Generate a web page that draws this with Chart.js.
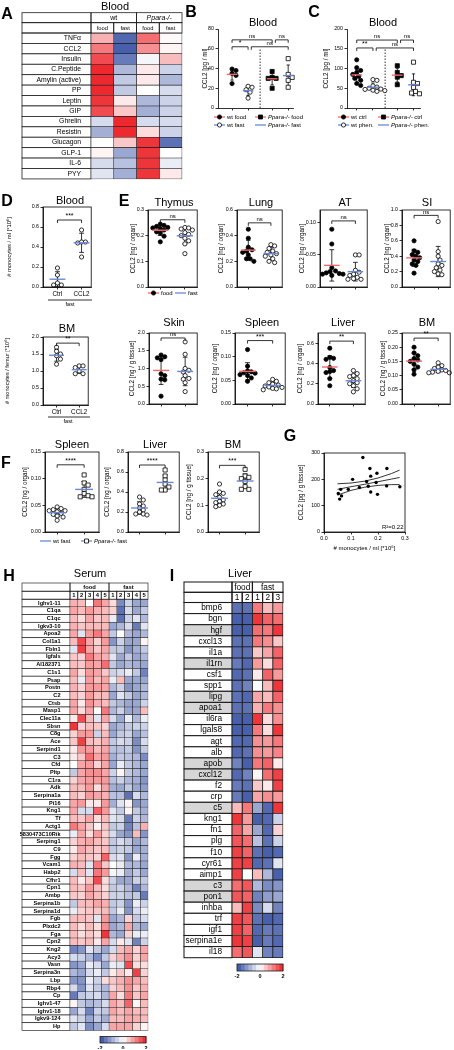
<!DOCTYPE html>
<html lang="en">
<head>
<meta charset="UTF-8" />
<title>CCL2 and fasting</title>
<script src="https://cdn.jsdelivr.net/npm/chart.js"></script>
<style>
  html, body { margin: 0; padding: 0; background: #fff; }
  #fig { position: relative; width: 454px; height: 1050px; overflow: hidden; font-family: "Liberation Sans", Arial, sans-serif; color: #000; }
  #fig canvas { position: absolute; }
  .lt, .tt { position: absolute; transform: translate(-50%, -50%); white-space: nowrap; line-height: 1; }
  .lt { font-weight: bold; font-size: 16px; }
  .tt { font-size: 11px; }
</style>
</head>
<body>
<div id="fig"></div>
<script>
// ---------- data ----------
// A: blood hormones (z-score)
const aRows = ['TNFα', 'CCL2', 'Insulin', 'C.Peptide', 'Amylin (active)', 'PP', 'Leptin', 'GIP', 'Ghrelin', 'Resistin', 'Glucagon', 'GLP-1', 'IL-6', 'PYY'];
const aWtFood = [0.7, 1.2, 1.6, 1.9, 1.9, 1.9, 1.8, 1.6, -0.4, -0.9, 0, 0.1, -0.4, -0.3];
const aWtFast = [-1.7, -1.8, -1.5, -0.8, -0.6, -0.6, 0.2, 0.5, 1.9, 1.9, 0.5, -1.0, -0.7, -0.9];
const aKoFood = [1.3, 1.0, -0.1, 0.2, 0.2, 0, -0.8, -0.9, -0.4, 0.3, 1.8, 1.8, 1.8, 1.8];
const aKoFast = [0.05, 0.1, 0.6, -0.5, -0.8, -0.4, -0.5, -0.5, -0.4, -0.5, -1.6, 0, -0.2, 0.2];

// B: blood CCL2 pg/ml
const bTicks = [0, 20, 40, 60, 80];
const bWtFood = [39.5, 38, 35, 33, 24.7];
const bWtFast = [22, 21, 18.5, 16, 10];
const bKoFood = [37, 31, 30, 30, 20];
const bKoFast = [50, 34, 31, 28, 21];

// C: blood CCL2 pg/ml, phenofibrate
const cTicks = [0, 50, 100, 150, 200];
const cWtCtrl = [122, 102, 95, 90, 85, 80, 75, 70, 62, 57];
const cWtPhen = [72, 70, 56, 53, 50, 48, 47, 45, 44, 42];
const cKoCtrl = [107, 90, 82, 78, 59];
const cKoPhen = [116, 65, 62, 52, 42, 38, 36];

// D: monocytes
const dBloodTicks = [0, 0.2, 0.4, 0.6, 0.8];
const dBloodCtrl = [0.19, 0.12, 0.04, 0.02, 0.02];
const dBloodCcl2 = [0.57, 0.45, 0.44, 0.45, 0.3];
const dBmTicks = [0, 0.5, 1.0, 1.5, 2.0];
const dBmCtrl = [1.7, 1.58, 1.5, 1.45, 1.35, 1.2];
const dBmCcl2 = [1.15, 1.15, 1.1, 1.0, 0.92, 0.92];
const dGroups = ['Ctrl', 'CCL2'];

// E: tissue CCL2, food vs fast
const eThymusFood = [0.245, 0.24, 0.236, 0.232, 0.23, 0.228, 0.222, 0.215, 0.21, 0.198, 0.176];
const eThymusFast = [0.232, 0.23, 0.226, 0.222, 0.212, 0.205, 0.2, 0.19, 0.18, 0.168, 0.13];
const eLungFood = [0.45, 0.38, 0.31, 0.29, 0.28, 0.27, 0.25, 0.22, 0.22, 0.2];
const eLungFast = [0.33, 0.32, 0.3, 0.28, 0.27, 0.26, 0.25, 0.24, 0.22, 0.2, 0.19];
const eAtFood = [0.09, 0.067, 0.03, 0.025, 0.024, 0.022, 0.021, 0.02, 0.02, 0.018];
const eAtFast = [0.05, 0.05, 0.026, 0.023, 0.02, 0.018, 0.015, 0.013, 0.012, 0.012];
const eSiFood = [0.6, 0.47, 0.45, 0.42, 0.4, 0.38, 0.35, 0.33, 0.3, 0.28, 0.18];
const eSiFast = [0.85, 0.46, 0.4, 0.35, 0.3, 0.28, 0.25, 0.22, 0.2, 0.17, 0.16];
const eSkinFood = [1.38, 1.33, 1.3, 1.25, 0.85, 0.8, 0.7, 0.68, 0.22];
const eSkinFast = [1.75, 1.4, 1.0, 0.95, 0.9, 0.8, 0.72, 0.7, 0.6, 0.35];
const eSpleenFood = [0.115, 0.08, 0.07, 0.068, 0.066, 0.065, 0.062, 0.06, 0.055, 0.048];
const eSpleenFast = [0.052, 0.048, 0.045, 0.042, 0.04, 0.038, 0.036, 0.035, 0.033, 0.032, 0.03];
const eLiverFood = [0.55, 0.46, 0.45, 0.44, 0.36, 0.33, 0.32, 0.31, 0.25, 0.18];
const eLiverFast = [0.33, 0.3, 0.28, 0.27, 0.25, 0.23, 0.21, 0.2, 0.18, 0.15, 0.12];
const eBmFood = [0.2, 0.18, 0.17, 0.16, 0.155, 0.15, 0.14, 0.13, 0.12, 0.105];
const eBmFast = [0.145, 0.135, 0.13, 0.125, 0.12, 0.118, 0.115, 0.112, 0.11, 0.11];

// F: wt fast vs Ppara-/- fast
const fSpleenWt = [0.047, 0.044, 0.042, 0.04, 0.04, 0.038, 0.035, 0.033, 0.03, 0.028, 0.022];
const fSpleenKo = [0.107, 0.092, 0.088, 0.08, 0.072, 0.068, 0.066, 0.066];
const fLiverWt = [0.35, 0.32, 0.28, 0.26, 0.24, 0.22, 0.2, 0.18, 0.18, 0.17];
const fLiverKo = [0.62, 0.56, 0.52, 0.48, 0.45, 0.42, 0.42];
const fBmWt = [0.18, 0.15, 0.145, 0.14, 0.13, 0.12, 0.115, 0.11, 0.105, 0.1, 0.095];
const fBmKo = [0.235, 0.21, 0.205, 0.2, 0.19, 0.17, 0.16, 0.16];

// G: correlation
const gX = [0.053, 0.058, 0.062, 0.065, 0.09, 0.106, 0.131, 0.144, 0.158, 0.164, 0.17, 0.173, 0.173, 0.193, 0.196, 0.198, 0.232, 0.233, 0.281];
const gY = [146, 125, 162, 137, 162, 200, 169, 283, 192, 174, 241, 212, 152, 188, 223, 143, 175, 241, 172];
const gLineX = [0.05, 0.1, 0.15, 0.2, 0.25, 0.28];
const gFit = [162, 172, 181, 191, 201, 207];
const gHi = [183, 186, 193, 205, 222, 235];
const gLo = [140, 158, 170, 177, 180, 180];
const gXTicks = [0, 0.1, 0.2, 0.3];
const gXLabels = ['0.0', '0.1', '0.2', '0.3'];
const gYTicks = [0, 100, 200, 300];

// H: serum proteome (z-score), columns food 1-5, fast 1-5
const hGenes = ['Ighv1-11', 'C1qa', 'C1qc', 'Igkv3-10', 'Apoa2', 'Col1a1', 'Fbln1', 'Igfals', 'AI182371', 'C1s1', 'Psap', 'Postn', 'C2', 'Ctsb', 'Masp1', 'Clec11a', 'Sbsn', 'C8g', 'Ace', 'Serpind1', 'C3', 'Cfd', 'Pltp', 'C1ra', 'Adk', 'Serpina1a', 'Pi16', 'Kng1', 'Tf', 'Actg1', '5830473C10Rik', 'Serping1', 'C9', 'Fgg', 'Vcam1', 'Habp2', 'Cfhr1', 'Cpn1', 'Ambp', 'Serpina1b', 'Serpina1d', 'Fgb', 'Plxdc2', 'Fga', 'Cpn2', 'Kng2', 'Acy3', 'Vasn', 'Serpina3n', 'Lbp', 'Rbp4', 'Cp', 'Ighv1-47', 'Ighv1-18', 'Igkv9-124', 'Hp'];
const hVals = [
  [.7, .6, 0, 1.2, .8, .3, -1.3, -.5, -1, -1],
  [.8, .6, .9, .7, .6, .4, -1.6, -.4, -1, -.6],
  [.6, .3, .8, .5, .6, -.2, -1.6, -.5, -.3, -.8],
  [.7, .5, .6, .6, .6, -1, -.8, -.4, -1.5, -.3],
  [.8, -.3, .9, 1.2, .8, -.6, 0, -.8, -1, -.8],
  [.6, 1.6, .8, .4, .9, -1.2, -.5, -1, -1, .1],
  [-.3, 1.7, .8, .5, .8, -.6, -.6, -1.2, -.9, -.6],
  [.5, .4, 1.2, .8, .7, -.3, -1, -.6, -1, -.8],
  [.6, .5, .9, .8, 1.3, -.6, -1, -.8, -.9, -1],
  [.8, .3, .9, .8, .5, -.5, -.4, -.2, -.6, -1.4],
  [.6, -.2, .9, .6, .8, -.2, .6, -1, -1, -1],
  [.7, .4, .9, .9, .8, -.8, -.5, -1.2, -1, -.8],
  [.6, .4, .9, .6, .6, -1, -.3, -.6, -1, -.8],
  [.8, .2, 1, .7, .6, -.6, -.8, -1, -1, -.5],
  [.8, .3, .8, 0, 1.2, -.8, -.5, -1, -1, .6],
  [.2, 1.6, .6, -.3, .8, -.4, -1, -.2, -.8, -.2],
  [1.8, .4, .6, .5, .4, -1, -.8, -.6, -.5, -.5],
  [.4, .9, .9, -.5, .6, -1, -.6, -.5, -1, -.7],
  [.5, 1.7, .6, .5, .7, -.6, -.4, -.5, -1.3, -.4],
  [.2, .9, .9, .6, .8, -.7, -.7, -.6, -1.2, -.6],
  [.2, .5, 1.3, .8, .9, -.9, -.6, -.7, -.8, -1.3],
  [0, .8, .9, .4, .8, -1, -.2, -.6, -.8, -1],
  [-.6, .8, 1, 1, .8, -.5, .1, -.6, -.8, -1],
  [.4, .8, .9, .9, .9, -.7, -.5, -.8, -.9, -1.2],
  [.6, .6, .9, .3, .8, -.9, -1, -.6, -1, -1.1],
  [.6, .4, .9, .8, .7, -.7, -.7, -1.6, -.4, -.8],
  [.8, .9, .2, .2, .9, -.9, -.3, .1, -1.2, -1],
  [.8, -.4, -.4, 1.4, .9, -.3, -.6, .1, -.6, -.9],
  [.6, .5, .8, .3, .6, -.3, -.4, -1.5, -.5, -.8],
  [1.2, .8, .5, .1, .5, -.6, -.5, -1.4, -.7, .7],
  [-.2, .8, .3, .9, .4, -.4, -1, -1.2, .6, -1.2],
  [.4, .7, .8, .6, .5, -.6, -.4, -.6, -1, -.8],
  [.2, .8, .6, .5, .6, -.6, -.5, -.6, -1, -.9],
  [.4, .6, .5, .4, 1.4, -.4, -.3, -1.2, -.2, -.9],
  [.7, .6, -.3, 1.2, .5, 0, -.2, -.8, -.8, -1],
  [-.4, .6, -.3, 1.2, .9, -.1, -.2, -.9, -.6, -1],
  [.6, .2, .5, 1.6, .3, -.5, -1, -1, -.5, -.6],
  [.6, .5, .9, .6, .3, -.6, -.5, -.8, -1.4, -.8],
  [.5, .4, .8, .6, .4, -.5, -.5, -.7, -.6, -1.5],
  [-.6, .6, .6, .8, .7, -.6, -.5, -1.2, -.2, -.5],
  [-.2, .4, .5, .5, .6, -.6, -.2, -1.2, -.4, -.2],
  [.6, .6, .5, -.3, .9, -1, -.8, .4, -.6, -.4],
  [.6, .3, .6, .3, 1, -1, -.8, .8, -.8, -1],
  [.6, .3, .5, .3, 1.8, -.8, -1, .4, -.2, -.2],
  [.6, .5, .6, .2, .8, -.4, .2, -.3, -1.4, -.5],
  [-1.4, -1.2, -.3, -.6, -1, -.4, .6, .8, .4, .8],
  [-.4, -.5, -.8, -1.3, -.6, .4, .7, 1, .4, .8],
  [-1.2, -1, -.2, -.4, -1, -.2, -.3, 1.6, .3, .3],
  [-.8, -1, -.4, -.2, -.6, .2, .5, .2, 1.7, .4],
  [-1.2, -1.2, -.2, -.5, .3, .5, .7, 1, .8, .6],
  [-.4, -1.2, -.3, -.6, -.8, .4, .6, 1, .5, .7],
  [-1.5, -.6, -.5, -.4, -.8, .8, .3, 1.2, .5, .8],
  [.1, -.6, -.8, -.7, -.4, .8, .6, 1.4, .1, .6],
  [-1, -.4, -1.4, -.5, -.6, .8, .6, .8, .6, .6],
  [-.3, -.5, -1, -.6, -.9, .6, .6, .8, .7, .6],
  [-.6, -.3, -1.3, -1, -.4, .8, .8, .8, .4, .1]
];

// I: liver transcripts (z-score), columns food 1-2, fast 1-3
const iGenes = ['bmp6', 'bgn', 'hgf', 'cxcl13', 'il1a', 'il1rn', 'csf1', 'spp1', 'lipg', 'apoa1', 'il6ra', 'lgals8', 'agt', 'alb', 'apob', 'cxcl12', 'f2', 'crp', 'c5', 'kng1', 'fn1', 'plg', 'f10', 'cyr61', 'aimp1', 'c3', 'pon1', 'inhba', 'trf', 'igf1', 'serpina1e', 'il18'];
const iGray = ['hgf', 'il1rn', 'lipg', 'apoa1', 'apob', 'cxcl12', 'c5', 'c3', 'pon1'];
const iVals = [
  [-1.6, -1.6, 1.2, .6, .9], [-1.8, -1.8, 1.8, 1.4, 1.3], [-1.8, -1.8, 1.3, 1.2, 1.8], [-1.6, -1.6, 1.2, 1.0, .5],
  [-1.6, -1.6, .5, .8, 1.4], [-1.5, -1.7, .9, .3, 1.4], [-1.7, -1.6, .2, 1.4, .9], [-1.6, -1.4, 0, .6, 1.8],
  [-1.6, -1.7, .8, .6, 1.4], [-1.6, -1.6, .7, 1.2, 1.0], [-1.8, -1.8, 1.8, .3, 1.0], [-1.8, -1.8, 1.2, .3, 1.8],
  [-1.7, -1.7, 1.0, .9, 1.2], [-1.7, -1.6, 1.0, .9, 1.1], [-1.4, -1.8, 1.2, 1.4, .2], [-1.7, -1.4, .1, 1.3, 1.7],
  [-1.5, -1.6, .5, .2, 1.7], [-1.5, -1.8, .8, 1.0, .9], [.6, 1.2, -1.0, -1.7, 1.8], [1.8, .9, -1.8, -1.7, -.5],
  [1.4, .8, -1.0, -1.7, .4], [1.5, 1.3, -.7, -1.6, -.5], [1.7, 1.4, -1.6, -1.8, -1.7], [1.7, 1.7, -1.7, -1.6, -.3],
  [1.7, 0, .6, -.8, -1.8], [1.3, 1.5, -.8, -1.3, -1.2], [1.5, 1.4, -1.4, -1.1, -1.0], [.6, 1.7, -1.3, -.4, -1.4],
  [1.7, 1.5, -1.6, -1.8, -1.7], [1.7, 1.4, -1.7, -1.5, -1.6], [1.8, 1.7, -1.8, -1.5, -1.7], [1.3, 1.5, -.3, -1.4, -1.5]
];
const cbTicks = ['-2', '0', '2'];

// ---------- helpers ----------
const FONT = '"Liberation Sans", Arial, sans-serif';
const RED = '#f0676a';
const BLUE = '#6a88d6';
Chart.defaults.font.family = FONT;
Chart.defaults.color = '#000';
Chart.defaults.animation = false;
Chart.defaults.responsive = false;
Chart.defaults.events = [];
Chart.defaults.plugins.legend.display = false;
Chart.defaults.plugins.tooltip.enabled = false;

const fig = document.getElementById('fig');
function mkCanvas(x, y, w, h) {
  const c = document.createElement('canvas');
  c.width = w; c.height = h;
  c.style.left = x + 'px'; c.style.top = y + 'px';
  fig.appendChild(c);
  return c;
}
function addText(cls, txt, x, y, size) {
  const d = document.createElement('div');
  d.className = cls; d.textContent = txt;
  d.style.left = x + 'px'; d.style.top = y + 'px';
  if (size) d.style.fontSize = size + 'px';
  fig.appendChild(d);
}
function heat(v) {
  const t = Math.max(-1, Math.min(1, v / 2));
  const e = t < 0 ? [52, 78, 163] : [236, 30, 36];
  const s = Math.abs(t);
  return 'rgb(' + e.map(k => Math.round(255 + (k - 255) * s)).join(',') + ')';
}
const mean = a => a.reduce((s, v) => s + v, 0) / a.length;
const sd = a => { const m = mean(a); return Math.sqrt(a.reduce((s, v) => s + (v - m) * (v - m), 0) / (a.length - 1)); };

// simple beeswarm so points with close values sit side by side
function swarm(vals, x0, ymax, hPx, pxPerX, r) {
  const pyv = hPx / ymax, placed = [], out = [];
  vals.map((v, i) => i).sort((a, b) => vals[b] - vals[a]).forEach(i => {
    const yp = vals[i] * pyv;
    let off = 0;
    for (let k = 0; k < 40; k++) {
      const o = k === 0 ? 0 : (k % 2 ? 1 : -1) * Math.ceil(k / 2) * r * 0.9;
      if (placed.every(p => Math.hypot(p.x - o, p.y - yp) >= r * 1.8)) { off = o; break; }
    }
    placed.push({ x: off, y: yp });
    out[i] = { x: x0 + off / pxPerX, y: vals[i] };
  });
  return out;
}

function txt(c, s, x, y, size, opt) {
  opt = opt || {};
  c.font = (opt.it ? 'italic ' : '') + (opt.b ? 'bold ' : '') + size + 'px ' + FONT;
  c.fillStyle = '#000';
  c.textAlign = opt.align || 'center';
  c.textBaseline = opt.base || 'middle';
  c.fillText(s, x, y);
}
function bracket(c, X, Y, x1, x2, y, s) {
  const a = X.getPixelForValue(x1), b = X.getPixelForValue(x2), p = Y.getPixelForValue(y);
  c.strokeStyle = '#000'; c.lineWidth = 0.8;
  c.beginPath(); c.moveTo(a, p + 3); c.lineTo(a, p); c.lineTo(b, p); c.lineTo(b, p + 3); c.stroke();
  txt(c, s, (a + b) / 2, p - 0.5, s === 'ns' ? 6 : 7, { base: 'bottom' });
}
function legMark(c, x, y, col, shape, fill) {
  c.strokeStyle = col; c.lineWidth = 1.3;
  c.beginPath(); c.moveTo(x, y); c.lineTo(x + 11, y); c.stroke();
  if (!shape) return;
  c.fillStyle = fill ? '#000' : '#fff'; c.strokeStyle = '#000'; c.lineWidth = 0.8;
  c.beginPath();
  if (shape === 'circle') c.arc(x + 5.5, y, 2.1, 0, 2 * Math.PI); else c.rect(x + 3.5, y - 2, 4, 4);
  c.fill(); c.stroke();
}
function legText(c, x, y, parts) {
  let cx = x;
  parts.forEach(([s, it]) => {
    txt(c, s, cx, y, 6, { it: it, align: 'left' });
    cx += c.measureText(s).width;
  });
}

function yAxis(o, padL) {
  const tf = o.tf || 6.3;
  return {
    type: 'linear', min: 0, max: o.ymax,
    afterBuildTicks: s => { s.ticks = o.yticks.map(v => ({ value: v })); },
    ticks: { font: { size: 5.3 }, padding: 1.5, autoSkip: false, callback: v => v.toFixed(o.dec) },
    grid: { drawOnChartArea: false, tickLength: 2.5, color: '#000', lineWidth: 0.8 },
    border: { color: '#000', width: 0.8 },
    title: { display: true, text: o.ytitle, font: { size: tf }, padding: { top: padL - o.yd - tf * 0.6, bottom: 0 } },
    afterFit: s => { s.width = padL; }
  };
}
function xAxis(o, padB) {
  return {
    type: 'linear', min: o.xmin, max: o.xmax,
    afterBuildTicks: s => { s.ticks = o.xticks.map(v => ({ value: v })); },
    ticks: { font: { size: o.xlf || 5.3 }, padding: 1, autoSkip: false, maxRotation: 0, callback: (v, i) => o.xlabels ? o.xlabels[i] : '' },
    grid: { drawOnChartArea: false, tickLength: 2.5, color: '#000', lineWidth: 0.8 },
    border: { color: '#000', width: 0.8 },
    title: o.xtitle ? { display: true, text: o.xtitle, font: { size: 6 }, padding: { top: 0, bottom: o.xtpb || 0 } } : { display: false },
    afterFit: s => { s.height = padB; }
  };
}

// dot plot with mean line and SD bars
function dotPlot(o) {
  const A = o.area, P = o.pad;
  const ox = A.x - P.l, oy = A.y - P.t;
  const cv = mkCanvas(ox, oy, A.w + P.l + P.r, A.h + P.t + P.b);
  const line = (pts, col, w, ord, dash) => ({ type: 'scatter', data: pts, showLine: true, borderColor: col, borderWidth: w, pointRadius: 0, borderDash: dash || [], order: ord, clip: false });
  const ds = [];
  o.xticks = o.groups.map(g => g.x);
  o.groups.forEach(g => {
    const r = g.style === 'rect' ? 2.9 : 2.1;
    ds.push({ type: 'scatter', data: swarm(g.vals, g.x, o.ymax, A.h, A.w / (o.xmax - o.xmin), 2.2), pointStyle: g.style || 'circle', pointRadius: r, backgroundColor: g.fill ? '#000' : '#fff', borderColor: '#000', borderWidth: 0.8, order: 1, clip: false });
    const m = mean(g.vals), s = sd(g.vals);
    ds.push(line([{ x: g.x, y: m - s }, { x: g.x, y: m + s }], '#000', 0.8, 2));
    ds.push(line([{ x: g.x - 0.1, y: m + s }, { x: g.x + 0.1, y: m + s }], '#000', 0.8, 2));
    ds.push(line([{ x: g.x - 0.1, y: m - s }, { x: g.x + 0.1, y: m - s }], '#000', 0.8, 2));
    ds.push(line([{ x: g.x - 0.33, y: m }, { x: g.x + 0.33, y: m }], g.mc, 1.4, 0));
  });
  if (o.divider) ds.push(line([{ x: o.divider[0], y: 0 }, { x: o.divider[0], y: o.divider[1] }], '#000', 0.8, 3, [1.5, 1.5]));
  new Chart(cv, {
    type: 'scatter',
    data: { datasets: ds },
    options: {
      layout: { padding: { left: 0, top: P.t, right: P.r, bottom: 0 } },
      scales: { x: xAxis(o, P.b), y: yAxis(o, P.l) }
    },
    plugins: [{
      id: 'dp',
      afterDraw(ch) {
        const c = ch.ctx, a = ch.chartArea;
        c.save();
        if (o.box) { c.strokeStyle = '#000'; c.lineWidth = 0.8; c.strokeRect(a.left, a.top, a.right - a.left, a.bottom - a.top); }
        (o.brackets || []).forEach(b => bracket(c, ch.scales.x, ch.scales.y, b[0], b[1], b[2], b[3]));
        if (o.extra) { c.translate(-ox, -oy); o.extra(c); }
        c.restore();
      }
    }]
  });
}

// heatmap from floating bars, one dataset per column
function heatmap(o) {
  const A = o.area, P = o.pad;
  const ox = Math.round(A.x - P.l), oy = Math.round(A.y - P.t);
  const W = Math.round(A.x + A.w + P.r - ox), H = Math.round(A.y + A.h + P.b - oy);
  const padTop = A.y - oy, padBot = H - padTop - A.h, yW = A.x - ox, padR = W - yW - A.w;
  const cv = mkCanvas(ox, oy, W, H);
  const n = o.cols.length;
  new Chart(cv, {
    type: 'bar',
    data: {
      labels: o.rows,
      datasets: o.cols.map((col, i) => ({
        data: o.rows.map(() => [i, i + 1]),
        backgroundColor: col.map(heat), borderColor: '#1a1a1a', borderWidth: o.bw, borderSkipped: false,
        barPercentage: 1, categoryPercentage: 1, grouped: false, clip: false
      }))
    },
    options: {
      indexAxis: 'y',
      layout: { padding: { top: padTop, bottom: padBot, left: 0, right: padR } },
      scales: {
        x: { type: 'linear', min: 0, max: n, display: false },
        y: { type: 'category', offset: true, grid: { display: false }, border: { display: false },
             ticks: { autoSkip: false, padding: o.tp, font: o.font, color: '#000' },
             afterFit: s => { s.width = yW; } }
      }
    },
    plugins: [{
      id: 'hm',
      beforeDraw(ch) {
        const c = ch.ctx, Y = ch.scales.y, a = ch.chartArea;
        const pitch = Y.getPixelForValue(1) - Y.getPixelForValue(0);
        const x0 = o.labelX - ox;
        c.save(); c.strokeStyle = '#1a1a1a'; c.lineWidth = o.bw * 1.3;
        o.rows.forEach((r, i) => {
          const y0 = Y.getPixelForValue(i) - pitch / 2;
          c.fillStyle = (o.gray && o.gray.includes(r)) ? '#d6d6d6' : '#fff';
          c.fillRect(x0, y0, a.left - x0, pitch);
          c.strokeRect(x0, y0, a.left - x0, pitch);
        });
        c.restore();
      },
      afterDraw(ch) {
        const c = ch.ctx, X = ch.scales.x, a = ch.chartArea, h = o.header;
        const px = v => X.getPixelForValue(v);
        const x0 = o.labelX - ox, y1 = h.y1 - oy, y2 = h.y2 - oy, y3 = a.top;
        c.save(); c.strokeStyle = '#1a1a1a'; c.lineWidth = o.bw * 1.3;
        c.fillStyle = '#fff';
        c.strokeRect(x0, y1, px(0) - x0, y2 - y1);
        c.strokeRect(x0, y2, px(0) - x0, y3 - y2);
        h.groups.forEach(g => {
          c.strokeRect(px(g[0]), y1, px(g[1]) - px(g[0]), y2 - y1);
          txt(c, g[2], (px(g[0]) + px(g[1])) / 2, (y1 + y2) / 2 + 0.5, h.f1, { it: g[3], b: h.bold });
        });
        h.subs.forEach((s, i) => {
          c.strokeRect(px(i), y2, px(i + 1) - px(i), y3 - y2);
          txt(c, s, (px(i) + px(i + 1)) / 2, (y2 + y3) / 2 + 0.5, h.f2, { b: h.bold });
        });
        if (o.cbar) {
          const b = o.cbar, k = 12, bx = b.x - ox, by = b.y - oy;
          for (let j = 0; j < k; j++) {
            c.fillStyle = heat(-2 + 4 * (j + 0.5) / k);
            c.fillRect(bx + j * b.w / k, by, b.w / k + 0.4, b.h);
          }
          c.lineWidth = 0.8; c.strokeRect(bx, by, b.w, b.h);
          cbTicks.forEach((s, j) => txt(c, s, bx + j * b.w / 2, b.ly - oy, 5.5, { b: true }));
        }
        c.restore();
      }
    }]
  });
}

// ---------- panel A ----------
heatmap({
  area: { x: 91, y: 33, w: 91, h: 148.4 }, pad: { l: 91, t: 33, r: 4, b: 4 }, labelX: 22,
  rows: aRows, cols: [aWtFood, aWtFast, aKoFood, aKoFast], font: { size: 6.8 }, tp: 2, bw: 0.6,
  header: { y1: 12.7, y2: 22.7, groups: [[0, 2, 'wt', false], [2, 4, 'Ppara-/-', true]], subs: ['food', 'fast', 'food', 'fast'], f1: 7, f2: 5.8 }
});

// ---------- panel B ----------
dotPlot({
  area: { x: 218, y: 29, w: 75, h: 79 }, pad: { l: 30, t: 29, r: 12, b: 26 },
  xmin: -0.875, xmax: 3.8, ymax: 80, yticks: bTicks, dec: 0, ytitle: 'CCL2 [pg / ml]', yd: 13,
  groups: [
    { x: 0, vals: bWtFood, fill: true, mc: RED },
    { x: 1, vals: bWtFast, fill: false, mc: BLUE },
    { x: 2.5, vals: bKoFood, fill: true, style: 'rect', mc: RED },
    { x: 3.5, vals: bKoFast, fill: false, style: 'rect', mc: BLUE }
  ],
  brackets: [[0, 2.5, 69, 'ns'], [2.7, 3.5, 69, 'ns'], [0, 1, 62, '*'], [1.2, 3.5, 62, 'ns']],
  divider: [1.75, 60],
  extra: c => {
    legMark(c, 214, 117, RED, 'circle', true); legText(c, 227, 117, [['wt food']]);
    legMark(c, 255, 117, RED, 'rect', true); legText(c, 268, 117, [['Ppara-/-', true], [' food']]);
    legMark(c, 214, 125, BLUE, 'circle', false); legText(c, 227, 125, [['wt fast']]);
    legMark(c, 255, 125, BLUE); legText(c, 268, 125, [['Ppara-/-', true], [' fast']]);
  }
});

// ---------- panel C ----------
dotPlot({
  area: { x: 347, y: 29, w: 73, h: 79 }, pad: { l: 30, t: 29, r: 34, b: 26 },
  xmin: -0.6, xmax: 3.9, ymax: 200, yticks: cTicks, dec: 0, ytitle: 'CCL2 [pg / ml]', yd: 21,
  groups: [
    { x: 0, vals: cWtCtrl, fill: true, mc: RED },
    { x: 1, vals: cWtPhen, fill: false, mc: BLUE },
    { x: 2.5, vals: cKoCtrl, fill: true, style: 'rect', mc: RED },
    { x: 3.5, vals: cKoPhen, fill: false, style: 'rect', mc: BLUE }
  ],
  brackets: [[0, 2.5, 172, 'ns'], [2.7, 3.5, 172, 'ns'], [0, 1, 152, '**'], [1.2, 3.5, 152, 'ns']],
  divider: [1.75, 150],
  extra: c => {
    legMark(c, 338, 117, RED, 'circle', true); legText(c, 351, 117, [['wt ctrl']]);
    legMark(c, 378, 117, RED, 'rect', true); legText(c, 391, 117, [['Ppara-/-', true], [' ctrl']]);
    legMark(c, 338, 125, BLUE, 'circle', false); legText(c, 351, 125, [['wt phen.']]);
    legMark(c, 378, 125, BLUE); legText(c, 391, 125, [['Ppara-/-', true], [' phen.']]);
  }
});

// ---------- panel D ----------
dotPlot({
  area: { x: 43, y: 207, w: 49, h: 80 }, pad: { l: 40, t: 12, r: 4, b: 22 },
  xmin: -0.6, xmax: 1.4, ymax: 0.8, yticks: dBloodTicks, dec: 1, ytitle: '# monocytes / ml [*10⁶]', yd: 34, tf: 5.8,
  xlabels: dGroups, xlf: 6.3, box: true,
  groups: [{ x: 0, vals: dBloodCtrl, fill: false, mc: BLUE }, { x: 1, vals: dBloodCcl2, fill: false, mc: BLUE }],
  brackets: [[0, 1, 0.67, '***']],
  extra: c => {
    c.strokeStyle = '#000'; c.lineWidth = 0.8;
    c.beginPath(); c.moveTo(48, 300); c.lineTo(92, 300); c.stroke();
    txt(c, 'fast', 70, 304.5, 5.5);
  }
});
dotPlot({
  area: { x: 43, y: 337, w: 46, h: 68 }, pad: { l: 42, t: 10, r: 4, b: 22 },
  xmin: -0.6, xmax: 1.4, ymax: 2, yticks: dBmTicks, dec: 1, ytitle: '# monocytes / femur [*10⁶]', yd: 36, tf: 5.6,
  xlabels: dGroups, xlf: 6.3, box: true,
  groups: [{ x: 0, vals: dBmCtrl, fill: false, mc: BLUE }, { x: 1, vals: dBmCcl2, fill: false, mc: BLUE }],
  brackets: [[0, 1, 1.82, '**']],
  extra: c => {
    c.strokeStyle = '#000'; c.lineWidth = 0.8;
    c.beginPath(); c.moveTo(48, 417); c.lineTo(90, 417); c.stroke();
    txt(c, 'fast', 68, 421.5, 5.5);
  }
});

// ---------- panel E ----------
const ePanels = [
  { x: 148, y: 210, w: 52, h: 77, f: eThymusFood, s: eThymusFast, max: 0.3, t: [0, 0.1, 0.2, 0.3], dec: 1, yt: 'CCL2 [ng / organ]', d: 15, br: [0.262, 'ns'] },
  { x: 237, y: 210, w: 48, h: 77, f: eLungFood, s: eLungFast, max: 0.6, t: [0, 0.2, 0.4, 0.6], dec: 1, yt: 'CCL2 [ng / organ]', d: 16, br: [0.5, 'ns'] },
  { x: 320, y: 210, w: 50, h: 77, f: eAtFood, s: eAtFast, max: 0.12, t: [0, 0.05, 0.1], dec: 2, yt: 'CCL2 [ng / organ]', d: 18, br: [0.103, 'ns'] },
  { x: 402, y: 210, w: 51, h: 77, f: eSiFood, s: eSiFast, max: 1.0, t: [0, 0.2, 0.4, 0.6, 0.8, 1.0], dec: 1, yt: 'CCL2 [ng / organ]', d: 15, br: [0.93, 'ns'] },
  { x: 149, y: 333, w: 51, h: 71, f: eSkinFood, s: eSkinFast, max: 2, t: [0, 0.5, 1.0, 1.5, 2.0], dec: 1, yt: 'CCL2 [ng / g tissue]', d: 17, br: [1.86, 'ns'] },
  { x: 235, y: 333, w: 53, h: 71, f: eSpleenFood, s: eSpleenFast, max: 0.15, t: [0, 0.05, 0.1, 0.15], dec: 2, yt: 'CCL2 [ng / organ]', d: 20, br: [0.134, '***'] },
  { x: 318, y: 333, w: 50, h: 71, f: eLiverFood, s: eLiverFast, max: 0.7, t: [0, 0.2, 0.4, 0.6], dec: 1, yt: 'CCL2 [ng / organ]', d: 18, br: [0.62, '**'] },
  { x: 402, y: 333, w: 51, h: 71, f: eBmFood, s: eBmFast, max: 0.25, t: [0, 0.05, 0.1, 0.15, 0.2, 0.25], dec: 2, yt: 'CCL2 [ng / g tissue]', d: 19, br: [0.232, '**'] }
];
ePanels.forEach((p, i) => dotPlot({
  area: { x: p.x, y: p.y, w: p.w, h: p.h }, pad: { l: 30, t: 12, r: 2, b: 10 },
  xmin: -0.5, xmax: 1.5, ymax: p.max, yticks: p.t, dec: p.dec, ytitle: p.yt, yd: p.d, box: true,
  groups: [{ x: 0, vals: p.f, fill: true, mc: RED }, { x: 1, vals: p.s, fill: false, mc: BLUE }],
  brackets: [[0, 1, p.br[0], p.br[1]]],
  extra: i === 0 ? c => {
    legMark(c, 148, 293, RED, 'circle', true); legText(c, 161, 293, [['food']]);
    legMark(c, 175, 293, BLUE); legText(c, 188, 293, [['fast']]);
  } : null
}));

// ---------- panel F ----------
const fPanels = [
  { x: 45, f: fSpleenWt, s: fSpleenKo, max: 0.15, t: [0, 0.05, 0.1, 0.15], dec: 2, yt: 'CCL2 [ng / organ]', d: 20, br: [0.126, '****'], r: 40 },
  { x: 128, f: fLiverWt, s: fLiverKo, max: 0.8, t: [0, 0.2, 0.4, 0.6, 0.8], dec: 1, yt: 'CCL2 [ng / organ]', d: 21, br: [0.67, '****'], r: 2 },
  { x: 208, f: fBmWt, s: fBmKo, max: 0.3, t: [0, 0.1, 0.2, 0.3], dec: 1, yt: 'CCL2 [ng / g tissue]', d: 19, br: [0.25, '***'], r: 2 }
];
fPanels.forEach((p, i) => dotPlot({
  area: { x: p.x, y: 452, w: 54, h: 80 }, pad: { l: 32, t: 12, r: p.r, b: 14 },
  xmin: -0.45, xmax: 1.55, ymax: p.max, yticks: p.t, dec: p.dec, ytitle: p.yt, yd: p.d, box: true,
  groups: [{ x: 0, vals: p.f, fill: false, mc: BLUE }, { x: 1, vals: p.s, fill: false, style: 'rect', mc: BLUE }],
  brackets: [[0, 1, p.br[0], p.br[1]]],
  extra: i === 0 ? c => {
    legMark(c, 40, 541, BLUE); legText(c, 53, 541, [['wt fast']]);
    legMark(c, 81, 541, BLUE, 'rect', false); legText(c, 94, 541, [['Ppara-/-', true], [' fast']]);
  } : null
}));

// ---------- panel G ----------
(function () {
  const A = { x: 324, y: 453, w: 81, h: 79 }, P = { l: 32, t: 6, r: 10, b: 22 };
  const ox = A.x - P.l, oy = A.y - P.t;
  const cv = mkCanvas(ox, oy, A.w + P.l + P.r, A.h + P.t + P.b);
  const lineDs = ys => ({ type: 'scatter', data: gLineX.map((x, i) => ({ x: x, y: ys[i] })), showLine: true, borderColor: '#000', borderWidth: 0.8, pointRadius: 0, order: 0, clip: false });
  const o = { xmin: 0, xmax: 0.3, xticks: gXTicks, xlabels: gXLabels, xtitle: '# monocytes / ml [*10⁶]', xtpb: 2.4,
              ymax: 300, yticks: gYTicks, dec: 0, ytitle: 'CCL2 [pg / g tissue]', yd: 23 };
  new Chart(cv, {
    type: 'scatter',
    data: { datasets: [
      { data: gX.map((x, i) => ({ x: x, y: gY[i] })), pointRadius: 1.7, backgroundColor: '#000', borderWidth: 0, order: 1, clip: false },
      lineDs(gFit), lineDs(gHi), lineDs(gLo)
    ] },
    options: {
      layout: { padding: { left: 0, top: P.t, right: P.r, bottom: 0 } },
      scales: { x: xAxis(o, P.b), y: yAxis(o, P.l) }
    },
    plugins: [{
      id: 'g',
      afterDraw(ch) {
        const c = ch.ctx, a = ch.chartArea;
        c.save();
        c.strokeStyle = '#000'; c.lineWidth = 0.8;
        c.strokeRect(a.left, a.top, a.right - a.left, a.bottom - a.top);
        txt(c, 'R²=0.22', a.right - 1.5, a.bottom - 5, 6, { align: 'right' });
        c.restore();
      }
    }]
  });
})();

// ---------- panel H ----------
heatmap({
  area: { x: 70, y: 599.2, w: 78, h: 431.2 }, pad: { l: 70, t: 19, r: 8, b: 19 }, labelX: 22,
  rows: hGenes, cols: hVals[0].map((_, j) => hVals.map(r => r[j])), font: { size: 5.6, weight: 'bold' }, tp: 1.5, bw: 0.5,
  header: { y1: 583, y2: 591.2, groups: [[0, 5, 'food'], [5, 10, 'fast']], subs: ['1', '2', '3', '4', '5', '1', '2', '3', '4', '5'], f1: 5.8, f2: 5.8, bold: true },
  cbar: { x: 100, y: 1036.5, w: 46, h: 6.5, ly: 1048 }
});

// ---------- panel I ----------
heatmap({
  area: { x: 232, y: 602.5, w: 51, h: 355.2 }, pad: { l: 62, t: 22, r: 10, b: 24 }, labelX: 184,
  rows: iGenes, cols: iVals[0].map((_, j) => iVals.map(r => r[j])), font: { size: 8.3 }, tp: 2, bw: 0.8, gray: iGray,
  header: { y1: 582, y2: 592.3, groups: [[0, 2, 'food'], [2, 5, 'fast']], subs: ['1', '2', '1', '2', '3'], f1: 8.3, f2: 8.3 },
  cbar: { x: 237, y: 964, w: 46, h: 7, ly: 976 }
});

// ---------- letters and titles ----------
[['A', 7, 14], ['B', 191, 12], ['C', 314, 12], ['D', 7, 201], ['E', 124, 201], ['F', 6, 463], ['G', 290, 436], ['H', 9, 576], ['I', 172, 576]]
  .forEach(l => addText('lt', l[0], l[1], l[2]));
[['Blood', 115, 6], ['Blood', 263, 22], ['Blood', 383, 22], ['Blood', 70, 200], ['BM', 67, 328],
 ['Thymus', 174, 202], ['Lung', 261, 202], ['AT', 345, 202], ['SI', 427, 202],
 ['Skin', 174, 322], ['Spleen', 262, 322], ['Liver', 343, 322], ['BM', 427, 322],
 ['Spleen', 72, 444], ['Liver', 155, 444], ['BM', 233, 444], ['Serum', 90, 573], ['Liver', 240, 573]]
  .forEach(t => addText('tt', t[0], t[1], t[2]));
</script>
</body>
</html>
